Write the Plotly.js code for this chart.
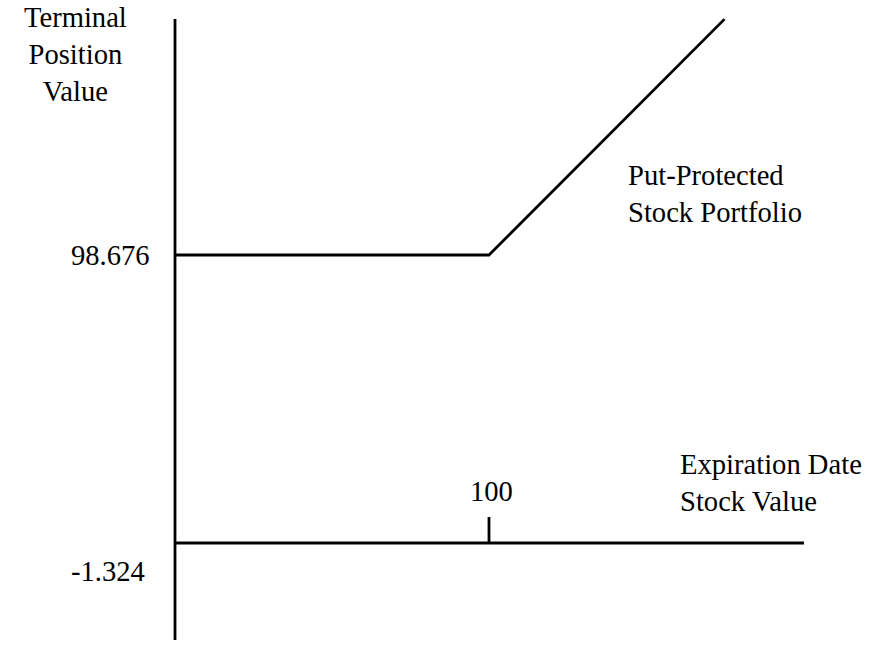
<!DOCTYPE html>
<html>
<head>
<meta charset="utf-8">
<script src="https://cdn.plot.ly/plotly-3.0.1.min.js"></script>
<style>html,body{margin:0;padding:0;background:#fff;}#chart{width:879px;height:647px;}</style>
</head>
<body>
<div id="chart"></div>
<script>
// Payoff of the put-protected stock portfolio (schematic)
const stockValues = [0, 100, 175];
const positionValues = [98.676, 98.676, 179.5];
const strike = 100;
const flatValue = 98.676;
const yLabels = ["98.676", "-1.324"];
const xLabel = "100";
const yAxisTitle = "Terminal<br>Position<br>Value";
const xAxisTitle = "Expiration Date<br>Stock Value";
const seriesLabel = "Put-Protected<br>Stock Portfolio";

const W = 879, H = 647;
const font = {family: "Liberation Serif", size: 28.6, color: "#000"};
const px = v => v / W;
const py = v => 1 - v / H;

const trace = {
  x: stockValues, y: positionValues, type: "scatter", mode: "lines",
  line: {color: "#000", width: 2.8}, hoverinfo: "skip", showlegend: false
};

const lineStyle = {color: "#000", width: 2.8};
const shapes = [
  {type: "line", xref: "x", yref: "y", x0: 0, x1: 0, y0: -33.2, y1: 179.5, line: lineStyle},
  {type: "line", xref: "x", yref: "y", x0: 0, x1: 200.3, y0: 0, y1: 0, line: lineStyle},
  {type: "line", xref: "x", yref: "y", x0: strike, x1: strike, y0: 0, y1: 8.9, line: lineStyle}
];

const annotations = [
  {text: yAxisTitle, xref: "paper", yref: "paper", x: px(75), y: py(55), xanchor: "center", yanchor: "middle", align: "center", showarrow: false, font: font},
  {text: yLabels[0], xref: "paper", yref: "y", x: px(152), y: flatValue, xanchor: "right", yanchor: "middle", showarrow: false, font: font},
  {text: yLabels[1], xref: "paper", yref: "paper", x: px(147), y: py(571), xanchor: "right", yanchor: "middle", showarrow: false, font: font},
  {text: xLabel, xref: "x", yref: "paper", x: strike, xshift: 2, y: py(491), xanchor: "center", yanchor: "middle", showarrow: false, font: font},
  {text: seriesLabel, xref: "paper", yref: "paper", x: px(626), y: py(194), xanchor: "left", yanchor: "middle", align: "left", showarrow: false, font: font},
  {text: xAxisTitle, xref: "paper", yref: "paper", x: px(678), y: py(483), xanchor: "left", yanchor: "middle", align: "left", showarrow: false, font: font}
];

const layout = {
  width: W, height: H,
  margin: {l: 0, r: 0, t: 0, b: 0, pad: 0},
  font: font,
  paper_bgcolor: "#fff", plot_bgcolor: "#fff",
  xaxis: {range: [-55.73, 224.2], visible: false, fixedrange: true},
  yaxis: {range: [-35.63, 186.05], visible: false, fixedrange: true},
  shapes: shapes,
  annotations: annotations,
  showlegend: false
};

Plotly.newPlot("chart", [trace], layout, {displayModeBar: false, staticPlot: true});
</script>
</body>
</html>
